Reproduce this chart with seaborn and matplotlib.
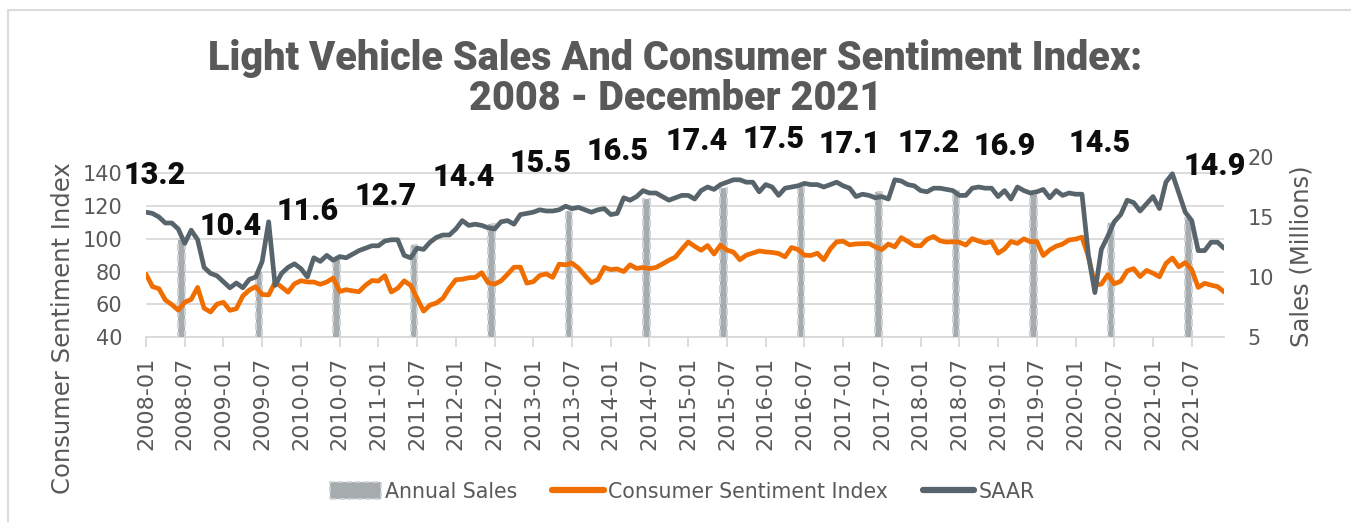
import numpy as np
import pandas as pd
import matplotlib
matplotlib.use("Agg")
import matplotlib.pyplot as plt
import seaborn as sns
from matplotlib.patches import Patch, Rectangle
from matplotlib.lines import Line2D

# --- data -------------------------------------------------------------
months = pd.date_range("2008-01-01", "2021-12-01", freq="MS")

sentiment = [
    78.4, 70.8, 69.5, 62.6, 59.8, 56.4, 61.2, 63.0, 70.3, 57.6, 55.3, 60.1,
    61.2, 56.3, 57.3, 65.1, 68.7, 70.8, 66.0, 65.7, 73.5, 70.6, 67.4, 72.5,
    74.4, 73.6, 73.6, 72.2, 73.6, 76.0, 67.8, 68.9, 68.2, 67.7, 71.6, 74.5,
    74.2, 77.5, 67.5, 69.8, 74.3, 71.5, 63.7, 55.8, 59.5, 60.8, 63.7, 69.9,
    75.0, 75.3, 76.2, 76.4, 79.3, 73.2, 72.3, 74.3, 78.3, 82.6, 82.7, 72.9,
    73.8, 77.6, 78.6, 76.4, 84.5, 84.1, 85.1, 82.1, 77.5, 73.2, 75.1, 82.5,
    81.2, 81.6, 80.0, 84.1, 81.9, 82.5, 81.8, 82.5, 84.6, 86.9, 88.8, 93.6,
    98.1, 95.4, 93.0, 95.9, 90.7, 96.1, 93.1, 91.9, 87.2, 90.0, 91.3, 92.6,
    92.0, 91.7, 91.0, 89.0, 94.7, 93.5, 90.0, 89.8, 91.2, 87.2, 93.8, 98.2,
    98.5, 96.3, 96.9, 97.0, 97.1, 95.1, 93.4, 96.8, 95.1, 100.7, 98.5, 95.9,
    95.7, 99.7, 101.4, 98.8, 98.0, 98.2, 97.9, 96.2, 100.1, 98.6, 97.5, 98.3,
    91.2, 93.8, 98.4, 97.2, 100.0, 98.2, 98.4, 89.8, 93.2, 95.5, 96.8, 99.3,
    99.8, 101.0, 89.1, 71.8, 72.3, 78.1, 72.5, 74.1, 80.4, 81.8, 76.9, 80.7,
    79.0, 76.8, 84.9, 88.3, 82.9, 85.5, 81.2, 70.3, 72.8, 71.7, 70.8, 67.6,
]

saar = [
    15.4, 15.3, 15.0, 14.5, 14.5, 14.0, 12.8, 13.9, 13.1, 10.8, 10.3, 10.1,
    9.6, 9.1, 9.5, 9.1, 9.8, 10.0, 11.3, 14.6, 9.3, 10.3, 10.8, 11.1,
    10.7, 10.0, 11.6, 11.3, 11.8, 11.4, 11.7, 11.6, 11.9, 12.2, 12.4, 12.6,
    12.6, 13.0, 13.1, 13.1, 11.8, 11.6, 12.4, 12.3, 12.9, 13.3, 13.5, 13.5,
    14.0, 14.7, 14.3, 14.4, 14.3, 14.1, 14.0, 14.6, 14.7, 14.4, 15.2, 15.3,
    15.4, 15.6, 15.5, 15.5, 15.6, 15.9, 15.7, 15.8, 15.6, 15.4, 15.6, 15.7,
    15.2, 15.3, 16.6, 16.4, 16.7, 17.2, 17.0, 17.0, 16.7, 16.4, 16.6, 16.8,
    16.8, 16.5, 17.2, 17.5, 17.3, 17.7, 17.9, 18.1, 18.1, 17.9, 17.9, 17.1,
    17.7, 17.5, 16.8, 17.4, 17.5, 17.6, 17.8, 17.7, 17.7, 17.5, 17.7, 17.9,
    17.6, 17.4, 16.7, 16.9, 16.8, 16.6, 16.7, 16.5, 18.1, 18.0, 17.7, 17.6,
    17.2, 17.1, 17.4, 17.4, 17.3, 17.2, 16.8, 16.8, 17.4, 17.5, 17.4, 17.4,
    16.7, 17.2, 16.5, 17.5, 17.2, 17.0, 17.1, 17.3, 16.6, 17.2, 16.8, 17.0,
    16.9, 16.9, 11.8, 8.7, 12.3, 13.4, 14.6, 15.2, 16.4, 16.2, 15.5, 16.1,
    16.7, 15.7, 17.9, 18.6, 17.0, 15.4, 14.7, 12.2, 12.2, 12.9, 12.9, 12.4,
]

years = list(range(2008, 2022))
annual_sales = [13.2, 10.4, 11.6, 12.7, 14.4, 15.5, 16.5, 17.4, 17.5, 17.1, 17.2, 16.9, 14.5, 14.9]

# where each annual label sits: months after January, height on the sales axis
label_dx = [1.4, 1.1, 1.0, 1.1, 1.2, 1.1, 1.1, 1.3, 1.2, 1.0, 1.3, 1.1, 3.8, 9.5]
label_y = [18.5, 14.25, 15.5, 16.75, 18.33, 19.5, 20.5, 21.33, 21.5, 21.08, 21.17, 20.92, 21.17, 19.25]

ORANGE = "#f06e00"
SLATE = "#58646c"
BARGREY = "#a6abae"
GRID = "#d9d9d9"
TEXT = "#595959"

df = pd.DataFrame({"t": np.arange(len(months)), "sentiment": sentiment, "saar": saar})
annual = pd.DataFrame({"t": (np.array(years) - 2008) * 12 + 5.5, "sales": annual_sales})

# --- figure -------------------------------------------------------------
sns.set_style("white")
plt.rcParams["font.family"] = ["DejaVu Sans"]

fig = plt.figure(figsize=(13.51, 5.22), dpi=100)
fig.patches.append(Rectangle((8 / 1351, -0.1), 1.1, 1.1 - 10 / 522, transform=fig.transFigure,
                             fill=False, edgecolor="#dcdcdc", linewidth=1.5))

ax = fig.add_axes([146 / 1351, 1 - 337 / 522, 1078 / 1351, 180 / 522])
ax_bar = ax.twinx()
ax_csi = ax.twinx()
ax_saar = ax.twinx()

sns.barplot(data=annual, x="t", y="sales", native_scale=True, width=0.085, color=BARGREY,
            saturation=1, edgecolor="#cfd3d5", linestyle="--", linewidth=1.5,
            errorbar=None, ax=ax_bar)
sns.lineplot(data=df, x="t", y="sentiment", color=ORANGE, linewidth=3.4,
             solid_joinstyle="round", ax=ax_csi)
sns.lineplot(data=df, x="t", y="saar", color=SLATE, linewidth=3.4,
             solid_joinstyle="round", ax=ax_saar)

ax.set_ylim(40, 150)
ax_csi.set_ylim(40, 150)
ax_bar.set_ylim(5, 20)
ax_saar.set_ylim(5, 20)

for a in (ax_csi, ax_saar):
    a.axis("off")

# left axis / grid
ax.set_yticks(range(40, 141, 20))
ax.grid(axis="y", color=GRID, linewidth=1.3)
ax.grid(axis="x", visible=False)
for s in ("left", "right", "top"):
    ax.spines[s].set_visible(False)
ax.spines["bottom"].set_color(GRID)
ax.spines["bottom"].set_linewidth(1.3)
ax.tick_params(axis="y", length=0, pad=17, labelsize=15, labelcolor=TEXT)
ax.set_ylabel("Consumer Sentiment Index", fontsize=17.5, color=TEXT)
ax.yaxis.set_label_coords(-0.066, 0.05)

# right axis
ax_bar.set_yticks(range(5, 21, 5))
ax_bar.grid(False)
for s in ax_bar.spines.values():
    s.set_visible(False)
ax_bar.tick_params(axis="y", length=0, pad=17, labelsize=15, labelcolor=TEXT)
ax_bar.set_ylabel("Sales (Millions)", fontsize=17.5, color=TEXT)
ax_bar.yaxis.set_label_coords(1.061, 0.45)

# x axis
tick_pos = df["t"].values[::6]
ax.set_xticks(tick_pos)
ax.set_xticklabels(months[::6].strftime("%Y-%m"), rotation=90)
ax.tick_params(axis="x", direction="out", length=7, width=1.3, color=GRID, pad=7,
               labelsize=16, labelcolor=TEXT, bottom=True)
ax.set_xlabel("")
ax.set_xlim(0, 167)

# annual labels
for i, v in enumerate(annual_sales):
    ax_saar.text((years[i] - 2008) * 12 + label_dx[i], label_y[i], f"{v}",
                 ha="center", va="center", fontsize=22, fontweight="black",
                 family=["Roboto", "DejaVu Sans"], color="#0d0d0d", clip_on=False)

fig.text(0.5, 1 - 58 / 522, "Light Vehicle Sales And Consumer Sentiment Index:",
         ha="center", va="center", fontsize=28.5, fontweight="black",
         family=["Roboto", "DejaVu Sans"], color=TEXT)
fig.text(0.5, 1 - 99 / 522, "2008 - December 2021",
         ha="center", va="center", fontsize=28.5, fontweight="black",
         family=["Roboto", "DejaVu Sans"], color=TEXT)

handles = [
    Patch(facecolor=BARGREY, edgecolor="#cfd3d5", linestyle="--", linewidth=1.2),
    Line2D([0], [0], color=ORANGE, linewidth=4.5, solid_capstyle="round"),
    Line2D([0], [0], color=SLATE, linewidth=4.5, solid_capstyle="round"),
]
leg = fig.legend(handles, ["Annual Sales", "Consumer Sentiment Index", "SAAR"],
                 loc="center", bbox_to_anchor=(682 / 1351, 1 - 492 / 522), ncol=3,
                 frameon=False, handlelength=2.5, handleheight=0.9, handletextpad=0.2,
                 columnspacing=1.7,
                 prop={"family": ["DejaVu Sans Condensed", "DejaVu Sans"], "size": 14.8})
for t in leg.get_texts():
    t.set_color(TEXT)

fig.savefig("out.png", dpi=100)
